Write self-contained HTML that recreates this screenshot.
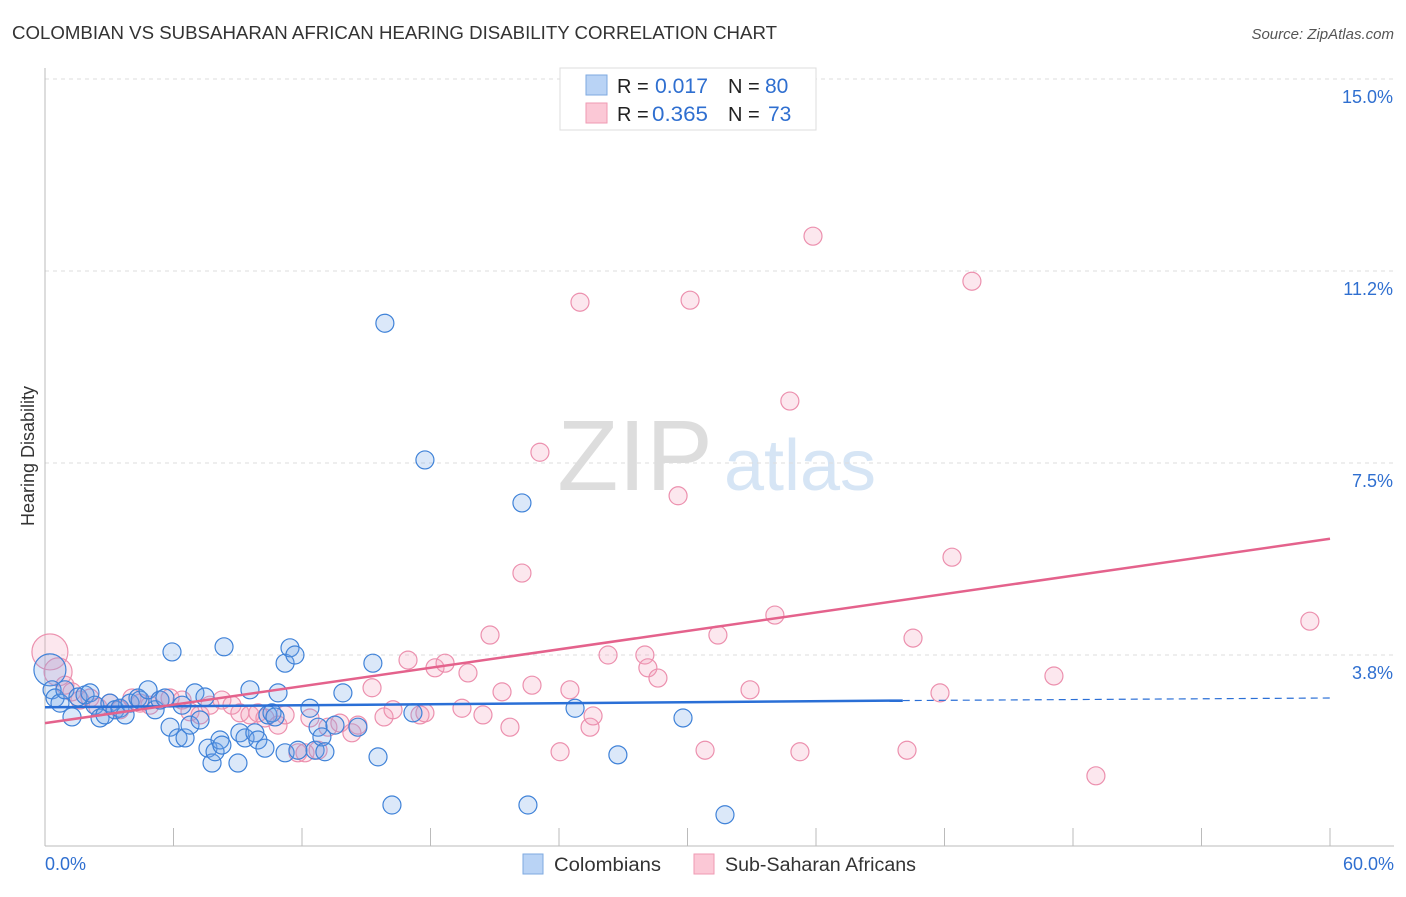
<!DOCTYPE html>
<html><head><meta charset="utf-8"><style>
body{margin:0;background:#fff;font-family:"Liberation Sans",sans-serif;}
svg text{font-family:"Liberation Sans",sans-serif;}
</style></head><body>
<svg id="chart" width="1406" height="892" viewBox="0 0 1406 892" xmlns="http://www.w3.org/2000/svg">
<text x="12" y="39" font-size="18" fill="#333" textLength="765" lengthAdjust="spacingAndGlyphs">COLOMBIAN VS SUBSAHARAN AFRICAN HEARING DISABILITY CORRELATION CHART</text>
<text x="1394" y="39" font-size="15" fill="#555" text-anchor="end" font-style="italic">Source: ZipAtlas.com</text>
<g>
<text x="635" y="490" font-size="100" fill="#ddd" font-family="Liberation Serif" text-anchor="middle">ZIP</text>
<text x="800" y="490" font-size="72" fill="#d6e5f5" text-anchor="middle">atlas</text>
</g>
<g id="grid"></g>
<g id="axes"></g>
<g id="pts"></g>
<g id="lines"></g>
<text transform="translate(34,456) rotate(-90)" font-size="18" fill="#333" text-anchor="middle">Hearing Disability</text>
<g>
<rect x="560" y="68" width="256" height="62" fill="#fff" stroke="#ddd"/>
<rect x="586" y="75" width="21" height="20" fill="#b9d3f5" stroke="#7ea9e0"/>
<rect x="586" y="103" width="21" height="20" fill="#fbc8d6" stroke="#ef9ab3"/>
<text x="617" y="93" font-size="20" fill="#222">R =</text>
<text x="655" y="93" font-size="21" fill="#2f6fd0" textLength="53" lengthAdjust="spacingAndGlyphs">0.017</text>
<text x="728" y="93" font-size="20" fill="#222">N =</text>
<text x="765" y="93" font-size="21" fill="#2f6fd0">80</text>
<text x="617" y="121" font-size="20" fill="#222">R =</text>
<text x="652" y="121" font-size="21" fill="#2f6fd0" textLength="56" lengthAdjust="spacingAndGlyphs">0.365</text>
<text x="728" y="121" font-size="20" fill="#222">N =</text>
<text x="768" y="121" font-size="21" fill="#2f6fd0">73</text>
</g>
<g>
<rect x="523" y="854" width="20" height="20" fill="#b9d3f5" stroke="#7ea9e0"/>
<text x="554" y="871" font-size="19" fill="#333" textLength="107" lengthAdjust="spacingAndGlyphs">Colombians</text>
<rect x="694" y="854" width="20" height="20" fill="#fbc8d6" stroke="#ef9ab3"/>
<text x="725" y="871" font-size="19" fill="#333" textLength="191" lengthAdjust="spacingAndGlyphs">Sub-Saharan Africans</text>
</g>
</svg>
<script>
const yTicks=[3.75,7.5,11.25,15];
const yTickLabels=["3.8%","7.5%","11.2%","15.0%"];
const xTicks=[0,6,12,18,24,30,36,42,48,54,60];
const blueX=[0.23,0.33,0.47,0.70,0.93,1.26,1.54,1.87,2.10,2.33,2.57,2.80,3.03,3.27,3.50,3.74,3.97,4.34,4.44,4.81,5.14,5.37,5.60,5.84,5.93,6.21,6.40,6.54,6.77,7.00,7.24,7.47,7.61,7.80,7.94,8.17,8.26,8.36,9.01,9.10,9.34,9.57,9.80,9.94,10.27,10.41,10.60,10.74,10.88,11.21,11.21,11.44,11.67,11.81,12.37,12.61,12.75,12.93,13.07,13.54,13.91,14.61,15.31,15.55,15.87,16.20,17.18,17.74,22.27,22.55,24.75,26.75,29.79,31.75];
const blueY=[3.46,3.07,2.91,2.81,3.07,2.54,2.93,2.97,3.01,2.77,2.52,2.58,2.81,2.68,2.71,2.58,2.81,2.91,2.87,3.07,2.68,2.87,2.91,2.34,3.81,2.13,2.77,2.13,2.38,3.01,2.48,2.93,1.93,1.64,1.86,2.09,1.99,3.91,1.64,2.23,2.13,3.07,2.23,2.09,1.93,2.58,2.62,2.54,3.01,3.59,1.84,3.89,3.75,1.89,2.71,1.89,2.34,2.15,1.86,2.38,3.01,2.34,3.59,1.76,10.23,0.82,2.62,7.56,6.72,0.82,2.71,1.80,2.52,0.63];
const pinkX=[0.23,0.61,0.93,1.26,1.63,2.10,2.47,3.03,3.50,4.06,4.44,4.90,5.37,5.84,6.40,6.77,7.24,7.70,8.26,8.73,9.10,9.57,9.94,10.27,10.88,11.21,11.81,12.14,12.37,12.75,13.21,13.77,14.33,14.61,15.27,15.83,16.25,16.95,17.51,17.74,18.21,18.68,19.47,19.75,20.45,20.78,21.34,21.71,22.27,22.74,23.11,24.05,24.51,24.98,25.45,25.59,26.29,28.01,28.15,28.62,29.56,30.12,30.82,31.42,32.92,34.08,34.78,35.25,35.86,40.25,40.53,41.79,42.35,43.28,47.11,49.07,59.06];
const pinkY=[3.81,3.42,3.16,3.03,2.87,2.91,2.73,2.81,2.68,2.91,2.81,2.77,2.87,2.91,2.87,2.64,2.58,2.77,2.87,2.77,2.62,2.58,2.62,2.52,2.38,2.58,1.84,1.84,2.52,1.89,2.34,2.42,2.23,2.38,3.11,2.54,2.68,3.65,2.58,2.62,3.50,3.59,2.71,3.40,2.58,4.14,3.03,2.34,5.35,3.16,7.71,1.86,3.07,10.64,2.34,2.56,3.75,3.75,3.50,3.30,6.86,10.68,1.89,4.14,3.07,4.53,8.71,1.86,11.93,1.89,4.08,3.01,5.66,11.05,3.34,1.39,4.41];
const blueTrend=[2.73,2.86,2.91]; // at x=0, 40.05, 60
const pinkTrend=[2.42,6.02]; // at x=0, 60
const X=v=>45+v/60*1285, Y=v=>847-v*51.2;
const NS="http://www.w3.org/2000/svg";
function mk(tag,parent,attrs){const e=document.createElementNS(NS,tag);for(const k in attrs)e.setAttribute(k,attrs[k]);parent.appendChild(e);return e;}
const grid=document.getElementById('grid'),axes=document.getElementById('axes'),pts=document.getElementById('pts'),lines=document.getElementById('lines');
yTicks.forEach((t,i)=>{
 const l=mk('line',grid,{x1:45,x2:1394,y1:Y(t),y2:Y(t),stroke:'#ddd','stroke-dasharray':'4,4'});
 
 
 const tx=mk('text',axes,{x:1393,y:Y(t)+24,'font-size':18,fill:'#2f6fd0','text-anchor':'end'});
 tx.textContent=yTickLabels[i];
 
 
});
const ax=mk('line',axes,{x1:45,x2:45,y1:68,y2:846,stroke:'#bbb'});


const bx=mk('line',axes,{x1:45,x2:1394,y1:846,y2:846,stroke:'#bbb'});


xTicks.forEach(t=>{
 const l=mk('line',axes,{x1:X(t),x2:X(t),y1:828,y2:846,stroke:'#bbb'});
 
 
});
const xl0=mk('text',axes,{x:45,y:870,'font-size':18,fill:'#2f6fd0'});xl0.textContent='0.0%';


const xl1=mk('text',axes,{x:1394,y:870,'font-size':18,fill:'#2f6fd0','text-anchor':'end'});xl1.textContent='60.0%';


pinkX.forEach((x,i)=>{
 const r=i===0?18:(i===1?14:9);
 const c=mk('circle',pts,{cx:X(x),cy:Y(pinkY[i]),r:r,fill:'rgba(243,160,188,0.25)',stroke:'#ec90ae','stroke-width':1.2});
 
 
});
blueX.forEach((x,i)=>{
 const r=i===0?16:9;
 const c=mk('circle',pts,{cx:X(x),cy:Y(blueY[i]),r:r,fill:'rgba(110,165,232,0.25)',stroke:'#3f82d8','stroke-width':1.2});
 
 
});
const bl=mk('line',lines,{x1:X(0),y1:Y(blueTrend[0]),x2:X(40.05),y2:Y(blueTrend[1]),stroke:'#2a6fd6','stroke-width':2.5});


const bd=mk('line',lines,{x1:X(40.05),y1:Y(blueTrend[1]),x2:X(60),y2:Y(blueTrend[2]),stroke:'#2a6fd6','stroke-width':1.2,'stroke-dasharray':'7,5'});


const pl=mk('line',lines,{x1:X(0),y1:Y(pinkTrend[0]),x2:X(60),y2:Y(pinkTrend[1]),stroke:'#e4628c','stroke-width':2.5});


</script>
</body></html>
